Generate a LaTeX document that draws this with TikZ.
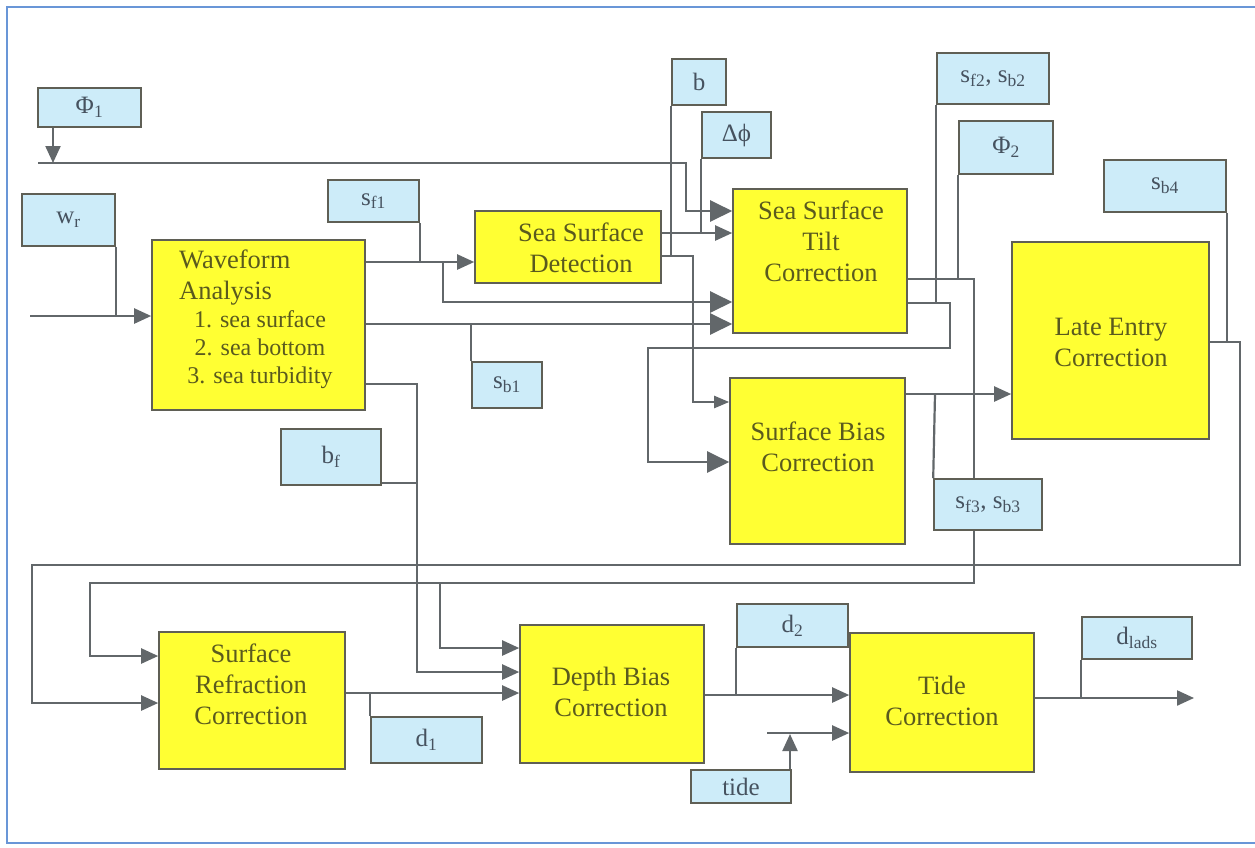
\documentclass[tikz,border=0pt]{standalone}
\usepackage{fontspec}
\setmainfont{Liberation Serif}
\newfontfamily\tnr{Liberation Serif}
\usetikzlibrary{arrows.meta}
\pgfdeclarelayer{bg}
\pgfsetlayers{bg,main}
\definecolor{yel}{RGB}{255,255,51}
\definecolor{lblue}{RGB}{205,236,249}
\definecolor{boxc}{RGB}{95,95,85}
\definecolor{linec}{RGB}{98,103,106}
\definecolor{ytxt}{RGB}{90,90,30}
\definecolor{btxt}{RGB}{70,82,95}
\definecolor{framec}{RGB}{105,150,215}
\begin{document}
\begin{tikzpicture}[x=1pt,y=-1pt,
  ybox/.style={draw=boxc,fill=yel,line width=1.6pt,inner sep=0pt},
  bbox/.style={draw=boxc,fill=lblue,line width=1.6pt,inner sep=0pt,text=btxt,
    font=\tnr\fontsize{25}{28}\selectfont},
  ytext/.style={text=ytxt,align=center,inner sep=0pt,font=\tnr\fontsize{26.5}{31}\selectfont},
  ln/.style={draw=linec,line width=2.2pt},
  arr/.style={ln,-{Triangle[length=17pt,width=15pt]}},
  bigarr/.style={ln,-{Triangle[length=22pt,width=21pt]}},
  smarr/.style={ln,-{Triangle[length=15pt,width=12pt]}}
]
\useasboundingbox (0,0) rectangle (1255,847);
\begin{pgfonlayer}{bg}
\fill[white] (0,0) rectangle (1255,847);
\end{pgfonlayer}
\draw[framec,line width=2.5pt] (1255,7) -- (7,7) -- (7,843) -- (1255,843);

% yellow boxes
\node[ybox,minimum width=213pt,minimum height=170pt] (wa) at (258.5,325) {};
\node[ybox,minimum width=186pt,minimum height=72pt] (ssd) at (568,247) {};
\node[ybox,minimum width=174pt,minimum height=144pt] (tilt) at (820,261) {};
\node[ybox,minimum width=197pt,minimum height=197pt] (late) at (1110.5,340.5) {};
\node[ybox,minimum width=175pt,minimum height=166pt] (sbias) at (817.5,461) {};
\node[ybox,minimum width=186pt,minimum height=137pt] (srefr) at (252,700.5) {};
\node[ybox,minimum width=184pt,minimum height=138pt] (dbias) at (612,694) {};
\node[ybox,minimum width=184pt,minimum height=139pt] (tide) at (942,702.5) {};

% texts in yellow boxes
\node[ytext,anchor=west,align=left] (waT1) at (179,278) {Waveform\\Analysis};
\node[ytext,font=\tnr\fontsize{24}{28}\selectfont] (waT2) at (260,350) {1. sea surface\\2. sea bottom\\3. sea turbidity};
\node[ytext] (ssdT) at (581,248) {Sea Surface\\Detection};
\node[ytext] (tiltT) at (821,241) {Sea Surface\\Tilt\\Correction};
\node[ytext] (lateT) at (1111,342) {Late Entry\\Correction};
\node[ytext] (sbiasT) at (818,447) {Surface Bias\\Correction};
\node[ytext] (srefrT) at (251,684) {Surface\\Refraction\\Correction};
\node[ytext] (dbiasT) at (611,692) {Depth Bias\\Correction};
\node[ytext] (tideT) at (942,701) {Tide\\Correction};

% blue boxes
\node[bbox,minimum width=103pt,minimum height=39pt] (phi1) at (89.5,107.5) {Φ\textsubscript{1}};
\node[bbox,minimum width=93pt,minimum height=52pt] (wr) at (68.5,220) {w\textsubscript{r}};
\node[bbox,minimum width=91pt,minimum height=42pt] (sf1) at (373.5,201) {s\textsubscript{f1}};
\node[bbox,minimum width=54pt,minimum height=46pt] (b) at (699,82) {b};
\node[bbox,minimum width=69pt,minimum height=46pt] (dphi) at (736.5,135) {Δϕ};
\node[bbox,minimum width=112pt,minimum height=51pt] (sf2) at (993,78.5) {s\textsubscript{f2}, s\textsubscript{b2}};
\node[bbox,minimum width=94pt,minimum height=53pt] (phi2) at (1006,147.5) {Φ\textsubscript{2}};
\node[bbox,minimum width=122pt,minimum height=52pt] (sb4) at (1165,186) {s\textsubscript{b4}};
\node[bbox,minimum width=70pt,minimum height=46pt] (sb1) at (507,385) {s\textsubscript{b1}};
\node[bbox,minimum width=100pt,minimum height=56pt] (bf) at (331,457) {b\textsubscript{f}};
\node[bbox,minimum width=108pt,minimum height=51pt] (sf3) at (988,504.5) {s\textsubscript{f3}, s\textsubscript{b3}};
\node[bbox,minimum width=111pt,minimum height=46pt] (d1) at (426.5,740) {d\textsubscript{1}};
\node[bbox,minimum width=111pt,minimum height=43pt] (d2) at (792.5,625.5) {d\textsubscript{2}};
\node[bbox,minimum width=110pt,minimum height=42pt] (dlads) at (1137,638) {d\textsubscript{lads}};
\node[bbox,minimum width=100pt,minimum height=33pt] (tidein) at (741,786.5) {tide};

% junction coordinates
\coordinate (busL) at (38,163);
\coordinate (busR) at (686,163);
\coordinate (win) at (30,316);

\begin{pgfonlayer}{bg}
% Phi1 and bus
\draw[arr] (phi1.south -| 53,0) -- (53,163);
\draw[bigarr] (busL) -- (busR) -- (busR |- 0,211) -- (tilt.west |- 0,211);
% w_r input
\draw[arr] (win) -- (wa.west |- win);
\draw[ln] (wr.south east) -- (wr.south east |- win);
% waveform out 1
\draw[arr] (wa.east |- 0,262) -- (ssd.west |- 0,262);
\draw[ln] (sf1.south east) -- (sf1.south east |- 0,262);
\draw[bigarr] (443,262) -- (443,302) -- (tilt.west |- 0,302);
% waveform out 2
\draw[bigarr] (wa.east |- 0,324) -- (tilt.west |- 0,324);
\draw[ln] (sb1.north west) -- (sb1.north west |- 0,324);
% waveform out 3
\draw[arr] (wa.east |- 0,384) -- (417,384) -- (417,672) -- (dbias.west |- 0,672);
\draw[ln] (bf.east |- 0,483) -- (417,483);
% detection outputs
\draw[arr] (ssd.east |- 0,233) -- (tilt.west |- 0,233);
\draw[ln] (dphi.south west) -- (dphi.south west |- 0,233);
\draw[smarr] (ssd.east |- 0,256) -- (693,256) -- (693,402) -- (sbias.west |- 0,402);
\draw[ln] (b.south west) -- (b.south west |- 0,256);
% tilt output 1
\draw[arr] (tilt.east |- 0,279) -- (974,279) -- (974,583) -- (90,583) -- (90,656) -- (srefr.west |- 0,656);
\draw[arr] (440,583) -- (440,648) -- (dbias.west |- 0,648);
\draw[ln] (phi2.south west) -- (phi2.south west |- 0,279);
% tilt output 2
\draw[bigarr] (tilt.east |- 0,303) -- (950,303) -- (950,348) -- (648,348) -- (648,462) -- (sbias.west |- 0,462);
\draw[ln] (sf2.south west) -- (sf2.south west |- 0,303);
% surface bias output
\draw[arr] (sbias.east |- 0,394) -- (late.west |- 0,394);
\draw[ln] (935,394) -- (sf3.north west);
% late entry output
\draw[arr] (late.east |- 0,342) -- (1240,342) -- (1240,565) -- (32,565) -- (32,703) -- (srefr.west |- 0,703);
\draw[ln] (sb4.south east) -- (sb4.south east |- 0,342);
% surface refraction output
\draw[arr] (srefr.east |- 0,693) -- (dbias.west |- 0,693);
\draw[ln] (d1.north west) -- (d1.north west |- 0,693);
% depth bias output
\draw[arr] (dbias.east |- 0,695) -- (tide.west |- 0,695);
\draw[ln] (d2.south west) -- (d2.south west |- 0,695);
% tide input
\draw[arr] (tidein.north -| 790,0) -- (790,734);
\draw[arr] (767,733) -- (tide.west |- 0,733);
% tide output
\draw[arr] (tide.east |- 0,698) -- (1194,698);
\draw[ln] (dlads.south west) -- (dlads.south west |- 0,698);
\end{pgfonlayer}
\end{tikzpicture}
\end{document}
